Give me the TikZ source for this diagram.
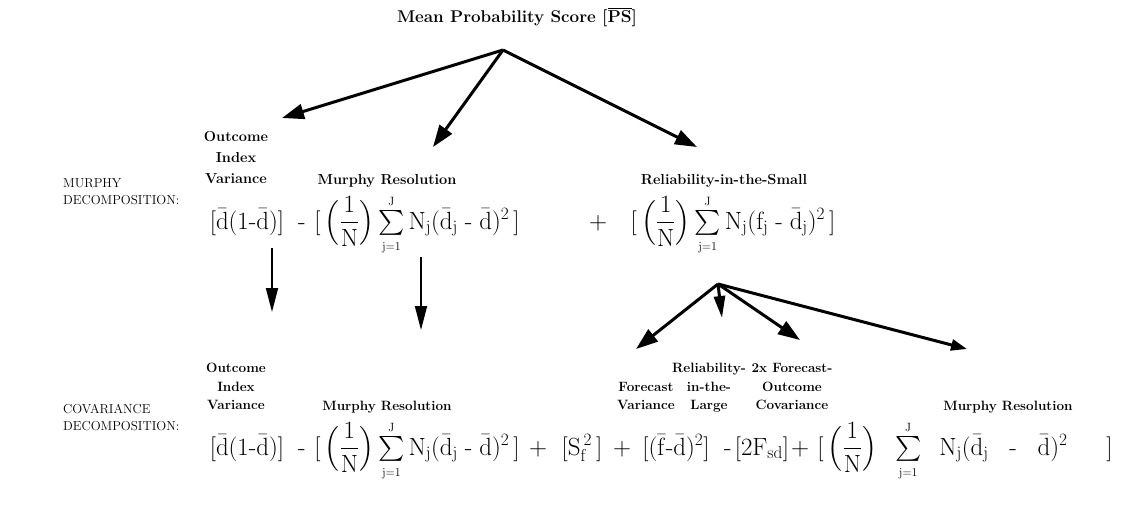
\documentclass[tikz,border=0pt]{standalone}
\usepackage{amsmath}
\usetikzlibrary{arrows.meta}
\newcommand{\dbar}{\bar{\mathrm{d}}}
\newcommand{\oneN}{\Bigl(\dfrac{1}{\mathrm{N}}\Bigr)}
\newcommand{\sumJ}{\sum\limits_{\scriptscriptstyle\mathrm{j=1}}^{\scriptscriptstyle\mathrm{J}}}
\newcommand{\hy}{\;\text{-}\;}
\newcommand{\nodepth}[1]{\raisebox{0pt}[\height][0pt]{#1}}
\begin{document}
\begin{tikzpicture}[x=1pt,y=-1pt,
  lbl/.style={font=\fontsize{14.5}{21}\selectfont\bfseries, align=center, inner sep=0pt, anchor=south},
  lblone/.style={font=\fontsize{14.5}{21}\selectfont\bfseries, inner sep=0pt, anchor=base},
  lblb/.style={lbl, font=\fontsize{13.5}{18.5}\selectfont\bfseries},
  lblbone/.style={lblone, font=\fontsize{13.5}{18.5}\selectfont\bfseries},
  hdr/.style={font=\fontsize{13}{17}\selectfont, align=left, anchor=west, inner sep=0pt},
  eq/.style={font=\fontsize{25}{29}\selectfont, inner sep=0pt, anchor=base},
  arr/.style={line width=3pt, -{Triangle[length=22pt,width=15pt]}},
  darr/.style={line width=1.8pt, -{Triangle[length=24pt,width=12pt]}}]
\useasboundingbox (0,0) rectangle (1122,507);

% title
\node[font=\fontsize{17}{20}\selectfont\bfseries, inner sep=0pt] (title) at (517,17)
  {Mean Probability Score [$\overline{\mathbf{PS}}$]};
\coordinate (apex) at (503,50);

% Murphy decomposition
\node[hdr] (murphy) at (63,192) {MURPHY\\DECOMPOSITION:};
\node[lbl] (oiv1) at (236,184) {Outcome\\Index\\Variance};
\node[lblone] (mr1) at (387,184) {Murphy Resolution};
\node[lblone] (rs1) at (724,184) {Reliability-in-the-Small};

\node[eq] (e1) at (247,229) {$[\dbar(1\text{-}\dbar)]$};
\node[eq] (m1) at (302,229) {-};
\node[eq] (e2) at (417,229) {$[\,\oneN\sumJ\mathrm{N_j}(\dbar_{\mathrm{j}}\hy\dbar)^2\,]$};
\node[eq] (p1) at (598,229) {+};
\node[eq] (e3) at (733,229) {$[\,\oneN\sumJ\mathrm{N_j}(\mathrm{f_j}\hy\dbar_{\mathrm{j}})^2\,]$};

% arrows from the mean probability score
\coordinate (t1) at (282,118);
\coordinate (t2) at (433,147);
\coordinate (t3) at (697,147);
\draw[arr] (apex) -- (t1);
\draw[arr] (apex) -- (t2);
\draw[arr] (apex) -- (t3);

% Covariance decomposition
\node[hdr] (cov) at (63,417) {COVARIANCE\\DECOMPOSITION:};
\node[lblb] (oiv2) at (236,410) {Outcome\\Index\\Variance};
\node[lblbone] (mr2) at (387,410) {Murphy Resolution};
\node[lblb] (fv) at (646,410) {Forecast\\Variance};
\node[lblb] (ril) at (709,410) {Reliability-\\in-the-\\\nodepth{Large}};
\node[lblb] (foc) at (792,410) {2x Forecast-\\Outcome\\Covariance};
\node[lblbone] (mr3) at (1008,410) {Murphy Resolution};

\node[eq] (b1) at (247,455) {$[\dbar(1\text{-}\dbar)]$};
\node[eq] (bm1) at (302,455) {-};
\node[eq] (b2) at (417,455) {$[\,\oneN\sumJ\mathrm{N_j}(\dbar_{\mathrm{j}}\hy\dbar)^2\,]$};
\node[eq] (bp1) at (538,455) {+};
\node[eq] (b3) at (582,455) {$[\mathrm{S}_{\mathrm{f}}^{\,2}\,]$};
\node[eq] (bp2) at (622,455) {+};
\node[eq] (b4) at (676,455) {$[(\bar{\mathrm{f}}\text{-}\dbar)^2]$};
\node[eq] (bm2) at (728,455) {-};
\node[eq] (b5) at (762,455) {$[2\mathrm{F_{sd}}]$};
\node[eq] (bp3) at (800,455) {+};
\node[eq] (b6) at (965,455) {$[\,\oneN\;\;\sumJ\;\;\mathrm{N_j}(\dbar_{\mathrm{j}}\;\;\;\text{-}\;\;\;\dbar)^2\quad\;\;]$};

% down arrows
\coordinate (d1s) at (272,248);
\coordinate (d1e) at (272,312);
\coordinate (d2s) at (421,257);
\coordinate (d2e) at (421,330);
\draw[darr] (d1s) -- (d1e);
\draw[darr] (d2s) -- (d2e);

% fan from reliability-in-the-small
\coordinate (apex2) at (718,284);
\coordinate (u1) at (636,349);
\coordinate (u2) at (722,318);
\coordinate (u3) at (800,340);
\coordinate (u4) at (967,349);
\draw[arr] (apex2) -- (u1);
\draw[arr, -{Triangle[length=22pt,width=11pt]}] (apex2) -- (u2);
\draw[arr] (apex2) -- (u3);
\draw[arr, -{Triangle[length=16pt,width=11pt]}] (apex2) -- (u4);
\end{tikzpicture}
\end{document}
